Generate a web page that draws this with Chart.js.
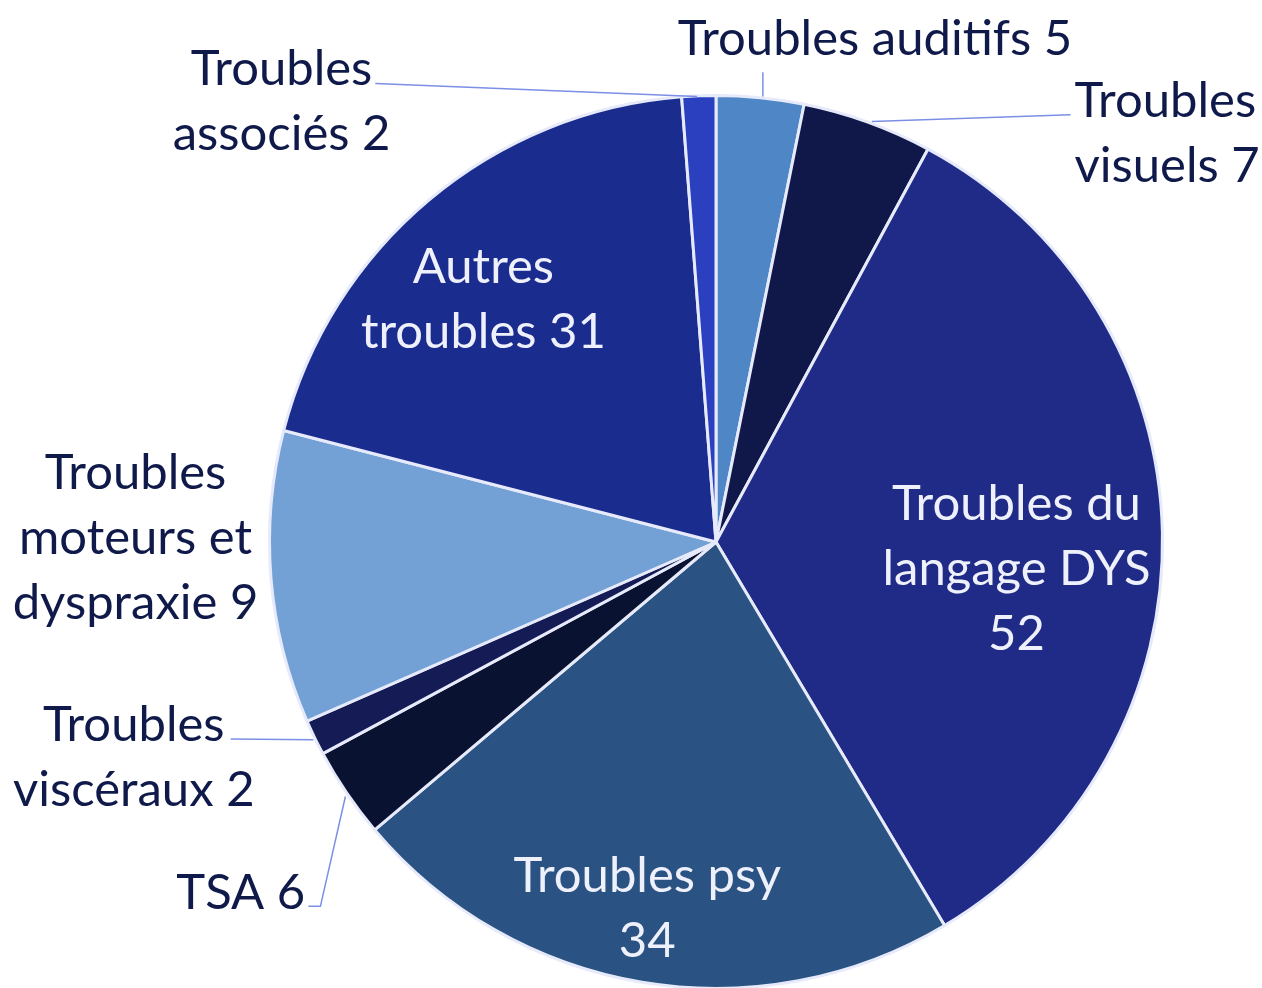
<!DOCTYPE html>
<html>
<head>
<meta charset="utf-8">
<script src="https://cdn.jsdelivr.net/npm/chart.js@4"></script>
<style>
  html, body { margin: 0; padding: 0; background: #fff; overflow: hidden; }
  #wrap { position: absolute; left: 0; top: 0; }
</style>
</head>
<body>
<div id="wrap"><canvas id="myChart" width="1262" height="990"></canvas></div>
<script>
// data
const categories = ['Troubles auditifs', 'Troubles visuels', 'Troubles du langage DYS', 'Troubles psy', 'TSA',
    'Troubles viscéraux', 'Troubles moteurs et dyspraxie', 'Autres troubles', 'Troubles associés']
// numbers printed in the labels
const counts = [5, 7, 52, 34, 6, 2, 9, 31, 2]
// slice sizes as drawn in the picture (they don't follow the printed numbers exactly)
const sliceValues = [4.9, 7.3, 52, 34.7, 5.1, 2.0, 16.4, 30.6, 1.9]
const sliceColors = ['#4f86c6', '#10184a', '#1f2b87', '#2a5282', '#0a1232', '#141b55', '#73a1d5', '#1b2c8f', '#2b40bf']

// label layout, in units of the pie radius relative to the centre
const labelLayout = [
    { lines: ['Troubles auditifs ' + counts[0]], x: 0.356, y: -1.13, align: 'center', inside: false,
      leader: [[0.105, -0.998], [0.105, -1.052]] },
    { lines: ['Troubles', 'visuels ' + counts[1]], x: 0.803, y: -0.991, align: 'left', inside: false,
      leader: [[0.349, -0.942], [0.794, -0.957]] },
    { lines: ['Troubles du', 'langage DYS', '' + counts[2]], x: 0.673, y: -0.089, align: 'center', inside: true },
    { lines: ['Troubles psy', '' + counts[3]], x: -0.154, y: 0.745, align: 'center', inside: true },
    { lines: ['TSA ' + counts[4]], x: -0.92, y: 0.783, align: 'right', inside: false,
      leader: [[-0.830, 0.570], [-0.886, 0.816], [-0.913, 0.816]] },
    { lines: ['Troubles', 'viscéraux ' + counts[5]], x: -1.304, y: 0.407, align: 'center', inside: false,
      leader: [[-0.902, 0.443], [-1.087, 0.441]] },
    { lines: ['Troubles', 'moteurs et', 'dyspraxie ' + counts[6]], x: -1.300, y: -0.159, align: 'center', inside: false },
    { lines: ['Autres', 'troubles ' + counts[7]], x: -0.521, y: -0.620, align: 'center', inside: true },
    { lines: ['Troubles', 'associés ' + counts[8]], x: -0.973, y: -1.063, align: 'center', inside: false,
      leader: [[-0.0425, -0.998], [-0.763, -1.027]] }
]

const fontSize = 49
const lineGap = 65

const labelPlugin = {
    id: 'sliceLabels',
    afterDraw(chart) {
        const ctx = chart.ctx
        const arcs = chart.getDatasetMeta(0).data
        const cx = arcs[0].x
        const cy = arcs[0].y
        const r = arcs[0].outerRadius
        ctx.save()
        ctx.font = fontSize + 'px Lato'
        ctx.textBaseline = 'alphabetic'
        labelLayout.forEach((lab) => {
            if (lab.leader) {
                ctx.strokeStyle = '#7b8fe6'
                ctx.lineWidth = 1.5
                ctx.beginPath()
                lab.leader.forEach((p, k) => {
                    const px = cx + p[0] * r
                    const py = cy + p[1] * r
                    if (k === 0) ctx.moveTo(px, py)
                    else ctx.lineTo(px, py)
                })
                ctx.stroke()
            }
            ctx.fillStyle = lab.inside ? '#eef1fb' : '#0f1a4a'
            ctx.textAlign = lab.align
            lab.lines.forEach((txt, k) => {
                const tx = cx + lab.x * r
                const ty = cy + lab.y * r + k * lineGap + fontSize * 0.36
                ctx.fillText(txt, tx, ty)
            })
        })
        ctx.restore()
    }
}

const myChart = document.querySelector('#myChart')
const chart = new Chart(myChart.getContext('2d'), {
    type: 'pie',
    data: {
        labels: categories,
        datasets: [{
            data: sliceValues,
            backgroundColor: sliceColors,
            borderColor: '#e6eafa',
            borderWidth: 3
        }]
    },
    options: {
        responsive: false,
        animation: false,
        layout: { padding: { top: 94, bottom: 0, left: 267, right: 97 } },
        plugins: {
            legend: { display: false },
            tooltip: { enabled: false }
        }
    },
    plugins: [labelPlugin]
})
</script>
</body>
</html>
